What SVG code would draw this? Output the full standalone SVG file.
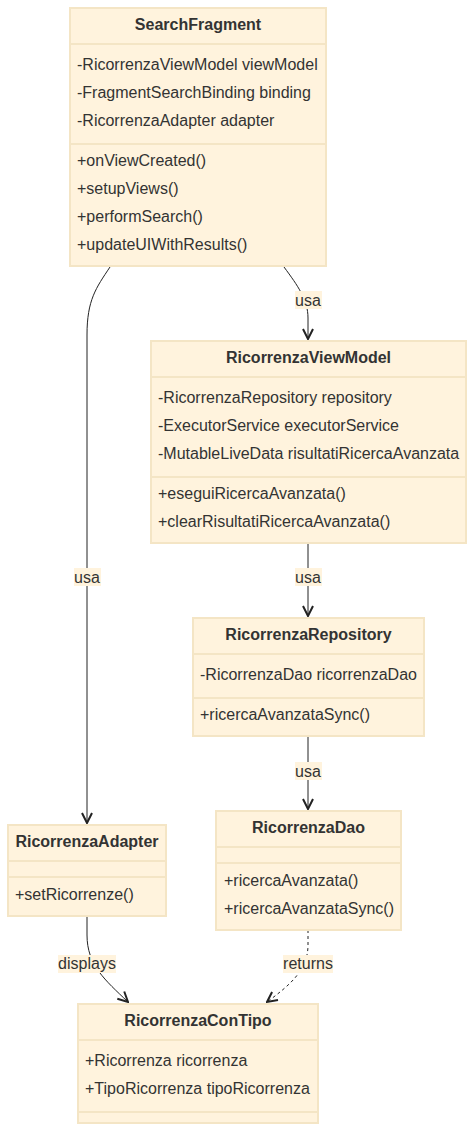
<svg xmlns="http://www.w3.org/2000/svg" width="475" height="1131" viewBox="0 0 475 1131">
<defs>
<style>
.box{fill:#fff3dd;stroke:#f4e5c5;stroke-width:2}
.div{stroke:#f4e5c5;stroke-width:2}
.t{font-family:"Liberation Sans",Arial,sans-serif;font-size:16px;fill:#333}
.b{font-weight:bold;text-anchor:middle}
.lbl{fill:#fff3dd}
.e{fill:none;stroke:#222;stroke-width:1}
.d{stroke-dasharray:3,3}
</style>
<marker id="ah" viewBox="0 0 12 12" refX="11" refY="6" markerWidth="12" markerHeight="12" orient="auto" markerUnits="userSpaceOnUse">
<path d="M1,1 L11,6 L1,11" fill="none" stroke="#222" stroke-width="2"/>
</marker>
</defs>
<rect width="475" height="1131" fill="#fff"/>
<g id="edges">
<path class="e" d="M110,267 C96,288 87,300 87,335 L87,823" marker-end="url(#ah)"/>
<path class="e" d="M284,267 C298,286 308,300 308,318 L308,339" marker-end="url(#ah)"/>
<path class="e" d="M308,544 L308,616" marker-end="url(#ah)"/>
<path class="e" d="M308,737 L308,809" marker-end="url(#ah)"/>
<path class="e" d="M87,916 L87,935 C87,965 105,980 128,1002" marker-end="url(#ah)"/>
<path class="e d" d="M308,930 L308,945 C308,970 290,985 267,1002" marker-end="url(#ah)"/>
<rect class="lbl" x="74" y="568" width="27" height="18"/><text class="t" x="87" y="583" text-anchor="middle">usa</text>
<rect class="lbl" x="295" y="291" width="27" height="18"/><text class="t" x="308" y="306" text-anchor="middle">usa</text>
<rect class="lbl" x="295" y="568" width="27" height="18"/><text class="t" x="308" y="583" text-anchor="middle">usa</text>
<rect class="lbl" x="295" y="762" width="27" height="18"/><text class="t" x="308" y="777" text-anchor="middle">usa</text>
<rect class="lbl" x="58" y="955" width="58" height="18"/><text class="t" x="87" y="969" text-anchor="middle">displays</text>
<rect class="lbl" x="283" y="955" width="50" height="18"/><text class="t" x="308" y="969" text-anchor="middle">returns</text>
</g>
<g id="SearchFragment">
<rect class="box" x="70" y="8" width="256" height="258"/>
<line class="div" x1="70" y1="44" x2="326" y2="44"/>
<line class="div" x1="70" y1="144" x2="326" y2="144"/>
<text class="t b" x="198" y="30">SearchFragment</text>
<text class="t" x="77" y="70">-RicorrenzaViewModel viewModel</text>
<text class="t" x="77" y="98">-FragmentSearchBinding binding</text>
<text class="t" x="77" y="126">-RicorrenzaAdapter adapter</text>
<text class="t" x="77" y="166">+onViewCreated()</text>
<text class="t" x="77" y="194">+setupViews()</text>
<text class="t" x="77" y="222">+performSearch()</text>
<text class="t" x="77" y="250">+updateUIWithResults()</text>
</g>
<g id="RicorrenzaViewModel">
<rect class="box" x="151" y="341" width="315" height="202"/>
<line class="div" x1="151" y1="377" x2="466" y2="377"/>
<line class="div" x1="151" y1="477" x2="466" y2="477"/>
<text class="t b" x="308.5" y="363">RicorrenzaViewModel</text>
<text class="t" x="158" y="403">-RicorrenzaRepository repository</text>
<text class="t" x="158" y="431">-ExecutorService executorService</text>
<text class="t" x="158" y="459">-MutableLiveData risultatiRicercaAvanzata</text>
<text class="t" x="158" y="499">+eseguiRicercaAvanzata()</text>
<text class="t" x="158" y="527">+clearRisultatiRicercaAvanzata()</text>
</g>
<g id="RicorrenzaRepository">
<rect class="box" x="193" y="618" width="231" height="118"/>
<line class="div" x1="193" y1="654" x2="424" y2="654"/>
<line class="div" x1="193" y1="698" x2="424" y2="698"/>
<text class="t b" x="308.5" y="640">RicorrenzaRepository</text>
<text class="t" x="200" y="680">-RicorrenzaDao ricorrenzaDao</text>
<text class="t" x="200" y="720">+ricercaAvanzataSync()</text>
</g>
<g id="RicorrenzaDao">
<rect class="box" x="216" y="811" width="185" height="119"/>
<line class="div" x1="216" y1="847" x2="401" y2="847"/>
<line class="div" x1="216" y1="863" x2="401" y2="863"/>
<text class="t b" x="308.5" y="833">RicorrenzaDao</text>
<text class="t" x="224" y="886">+ricercaAvanzata()</text>
<text class="t" x="224" y="914">+ricercaAvanzataSync()</text>
</g>
<g id="RicorrenzaAdapter">
<rect class="box" x="8" y="825" width="158" height="91"/>
<line class="div" x1="8" y1="861" x2="166" y2="861"/>
<line class="div" x1="8" y1="877" x2="166" y2="877"/>
<text class="t b" x="87" y="847">RicorrenzaAdapter</text>
<text class="t" x="15" y="900">+setRicorrenze()</text>
</g>
<g id="RicorrenzaConTipo">
<rect class="box" x="78" y="1004" width="240" height="119"/>
<line class="div" x1="78" y1="1040" x2="318" y2="1040"/>
<line class="div" x1="78" y1="1112" x2="318" y2="1112"/>
<text class="t b" x="198" y="1026">RicorrenzaConTipo</text>
<text class="t" x="85" y="1066">+Ricorrenza ricorrenza</text>
<text class="t" x="85" y="1094">+TipoRicorrenza tipoRicorrenza</text>
</g>
</svg>
